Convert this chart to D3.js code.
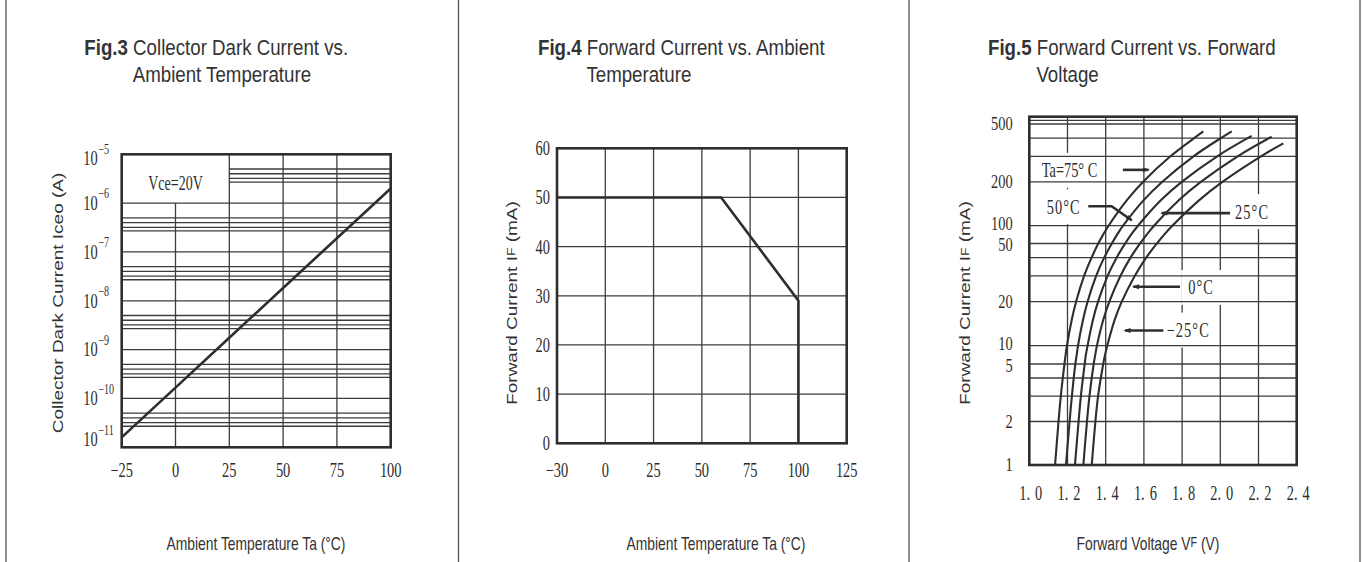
<!DOCTYPE html>
<html>
<head>
<meta charset="utf-8">
<script src="https://cdn.jsdelivr.net/npm/d3@7/dist/d3.min.js"></script>
<style>
html,body{margin:0;padding:0;background:#fff;}
svg{display:block;}
</style>
</head>
<body>
<svg id="chart" width="1363" height="562"></svg>
<script>
// ================= DATA =================
// Fig.3 Collector dark current vs ambient temperature
const fig3TempTicks = [-25, 0, 25, 50, 75, 100];
const fig3Temp = [-25, 0, 25, 50, 75, 100];
const fig3Iceo = [1.6e-11, 1.67e-10, 1.75e-9, 1.83e-8, 1.91e-7, 2.0e-6];
const fig3DecadeExponents = [-11, -10, -9, -8, -7, -6, -5];
const fig3MinorMultipliers = [5, 4, 3.2, 2.7];
const fig3Note = "Vce=20V";

// Fig.4 Forward current vs ambient temperature
const fig4TempTicks = [-30, 0, 25, 50, 75, 100, 125];
const fig4CurrentTicks = [0, 10, 20, 30, 40, 50, 60];
const fig4Temp = [-30, 60, 100, 100];
const fig4Current = [50, 50, 29, 0];

// Fig.5 Forward current vs forward voltage
const fig5VoltTicks = [1.0, 1.2, 1.4, 1.6, 1.8, 2.0, 2.2, 2.4];
const fig5CurrentTickLabels = [1, 2, 5, 10, 20, 50, 100, 200, 500];
const fig5CurrentGrid = [2, 3, 4, 5, 10, 20, 30, 40, 50, 100, 200, 300, 400, 500, 700];
const fig5SeriesLabels = ["Ta=75° C", "50°C", "25°C", "0°C", "−25°C"];
const fig5IF_75  = [1, 2, 3, 5, 7, 10, 15, 20, 30, 40, 50, 70, 100, 150, 200, 300, 400, 445];
const fig5VF_75  = [1.135, 1.153, 1.165, 1.184, 1.190, 1.197, 1.222, 1.245, 1.287, 1.326, 1.361, 1.386, 1.415, 1.511, 1.595, 1.739, 1.863, 1.911];
const fig5IF_50  = [1, 2, 3, 5, 7, 10, 15, 20, 30, 40, 50, 70, 100, 150, 200, 300, 400, 445];
const fig5VF_50  = [1.192, 1.211, 1.223, 1.241, 1.248, 1.255, 1.281, 1.305, 1.35, 1.392, 1.432, 1.459, 1.491, 1.599, 1.695, 1.86, 2.003, 2.06];
const fig5IF_25  = [1, 2, 3, 5, 7, 10, 15, 20, 30, 40, 50, 70, 100, 150, 200, 300, 414];
const fig5VF_25  = [1.239, 1.258, 1.27, 1.29, 1.296, 1.305, 1.333, 1.36, 1.41, 1.457, 1.502, 1.532, 1.569, 1.69, 1.798, 1.984, 2.164];
const fig5IF_0   = [1, 2, 3, 5, 7, 10, 15, 20, 30, 40, 50, 70, 100, 150, 200, 300, 409];
const fig5VF_0   = [1.283, 1.302, 1.315, 1.337, 1.345, 1.354, 1.387, 1.419, 1.477, 1.53, 1.58, 1.614, 1.653, 1.784, 1.898, 2.091, 2.269];
const fig5IF_m25 = [1, 2, 3, 5, 7, 10, 15, 20, 30, 40, 50, 70, 100, 150, 200, 300, 368];
const fig5VF_m25 = [1.327, 1.346, 1.36, 1.387, 1.396, 1.408, 1.447, 1.484, 1.552, 1.612, 1.668, 1.705, 1.749, 1.89, 2.011, 2.213, 2.33];
// annotation labels (data coordinates: volts, mA)
const fig5LabelV = [1.065, 1.091, 2.077, 1.832, 1.719];
const fig5LabelI = [240, 135, 125, 25, 12.8];
const fig5ArrowV = [[1.49, 1.624], [1.309, 1.431, 1.536], [2.051, 1.693], [1.789, 1.545], [1.702, 1.501]];
const fig5ArrowI = [[242, 242], [136, 136, 109], [122, 122], [25.3, 25.3], [12.7, 12.7]];

// ================= STYLE =================
const INK = "#2e2e2e";
const GRIDC = "#3c3c3c";
const SERIF = "'Liberation Serif','Times New Roman',serif";
const SANS = "'Liberation Sans',Arial,sans-serif";
const SX = 0.72;

const svg = d3.select("#chart");
const defs = svg.append("defs");
defs.append("marker").attr("id", "ah").attr("viewBox", "0 0 10 10")
  .attr("refX", 8).attr("refY", 5).attr("markerWidth", 9).attr("markerHeight", 7)
  .attr("markerUnits", "userSpaceOnUse").attr("orient", "auto")
  .append("path").attr("d", "M0,1.5 L10,5 L0,8.5 Z").attr("fill", INK);

function minus(v) { return v < 0 ? "\u2212" + Math.abs(v) : String(v); }

function stext(g, x, y, txt, o = {}) {
  const size = o.size || 20, sx = o.sx == null ? SX : o.sx;
  const t = g.append("text")
    .attr("transform", `translate(${x},${y}) scale(${sx},1)`)
    .attr("text-anchor", o.anchor || "middle")
    .attr("dominant-baseline", o.baseline || "central")
    .style("font-family", o.family || SERIF)
    .style("font-size", size + "px")
    .style("font-weight", o.weight || "normal")
    .attr("fill", o.fill || INK);
  if (txt != null) t.text(txt);
  return t;
}
function hline(g, x1, x2, y, w = 1.3, c = GRIDC) {
  g.append("line").attr("x1", x1).attr("x2", x2).attr("y1", y).attr("y2", y)
    .attr("stroke", c).attr("stroke-width", w);
}
function vline(g, x, y1, y2, w = 1.3, c = GRIDC) {
  g.append("line").attr("x1", x).attr("x2", x).attr("y1", y1).attr("y2", y2)
    .attr("stroke", c).attr("stroke-width", w);
}
function frame(g, F) {
  g.append("rect").attr("x", F.l).attr("y", F.t).attr("width", F.r - F.l).attr("height", F.b - F.t)
    .attr("fill", "none").attr("stroke", INK).attr("stroke-width", 2.6);
}

// panel separators
[6, 458.5, 909, 1360].forEach(x => vline(svg, x, 0, 562, 1.3, "#555"));

// titles
function title(x, fig, rest, line2) {
  const t = stext(svg, x, 55, null, {family: SANS, size: 22, sx: 0.85, anchor: "start", baseline: "alphabetic", fill: "#333"});
  t.append("tspan").style("font-weight", "bold").text(fig);
  t.append("tspan").text(" " + rest);
  stext(svg, x + 48.4, 81.7, line2, {family: SANS, size: 22, sx: 0.85, anchor: "start", baseline: "alphabetic", fill: "#333"});
}
title(84.3, "Fig.3", "Collector Dark Current vs.", "Ambient Temperature");
title(538, "Fig.4", "Forward Current vs. Ambient", "Temperature");
title(988, "Fig.5", "Forward Current vs. Forward", "Voltage");

function yTitle(x, y, parts) {
  const t = svg.append("text")
    .attr("transform", `translate(${x},${y}) rotate(-90) scale(1,0.8)`)
    .attr("text-anchor", "middle").attr("dominant-baseline", "central")
    .style("font-family", SANS).style("font-size", "19px").attr("fill", "#333");
  parts.forEach(p => t.append("tspan").style("font-size", (p[1] || 19) + "px").text(p[0]));
}
function xTitle(x, y, parts) {
  const t = stext(svg, x, y, null, {family: SANS, size: 18, sx: 0.77, fill: "#333"});
  parts.forEach(p => t.append("tspan").style("font-size", (p[1] || 18) + "px").text(p[0]));
}

// ================= FIG.3 =================
{
  const F = {l: 121.7, r: 390.7, t: 154.3, b: 447.3};
  const g = svg.append("g");
  const x = d3.scaleLinear().domain([-25, 100]).range([F.l, F.r]);
  const y = d3.scaleLog().domain([1e-11, 1e-5]).range([F.b, F.t]);
  const boxTop = 1e-6, boxRight = 25;
  fig3TempTicks.slice(1, -1).forEach(t => vline(g, x(t), t < boxRight ? y(boxTop) : F.t, F.b));
  fig3DecadeExponents.slice(1, -1).forEach(e => hline(g, F.l, F.r, y(Math.pow(10, e))));
  fig3DecadeExponents.slice(0, -1).forEach(e => {
    fig3MinorMultipliers.forEach(m => {
      const v = m * Math.pow(10, e);
      hline(g, v > boxTop ? x(boxRight) : F.l, F.r, y(v));
    });
  });
  frame(g, F);
  g.append("path").datum(fig3Temp.map((t, i) => [t, fig3Iceo[i]]))
    .attr("d", d3.line().x(d => x(d[0])).y(d => y(d[1])))
    .attr("fill", "none").attr("stroke", INK).attr("stroke-width", 2.6);
  stext(g, x(0), y(2.5e-6), fig3Note, {size: 20, sx: 0.70});
  fig3DecadeExponents.forEach(e => {
    const adj = e === -5 ? 4 : (e === -11 ? -8 : 0);
    const gy = y(Math.pow(10, e)) + adj;
    const t = stext(g, 83.3, gy + 6.7, null, {size: 20, anchor: "start", baseline: "alphabetic"});
    t.append("tspan").text("10");
    t.append("tspan").attr("dy", -11.5).attr("dx", 1).style("font-size", "14px").text(minus(e));
  });
  fig3TempTicks.forEach(t => stext(g, x(t), 470, minus(t)));
  yTitle(58, 303, [["Collector Dark Current Iceo (A)"]]);
  xTitle(256, 543, [["Ambient Temperature Ta (°C)"]]);
}

// ================= FIG.4 =================
{
  const F = {l: 557, r: 846.7, t: 148.3, b: 443.3};
  const g = svg.append("g");
  const x = d3.scaleLinear().domain([-30, 0, 125]).range([F.l, F.l + (F.r - F.l) / 6, F.r]);
  const y = d3.scaleLinear().domain([0, 60]).range([F.b, F.t]);
  fig4TempTicks.slice(1, -1).forEach(t => vline(g, x(t), F.t, F.b));
  fig4CurrentTicks.slice(1, -1).forEach(c => hline(g, F.l, F.r, y(c)));
  frame(g, F);
  g.append("path").datum(fig4Temp.map((t, i) => [t, fig4Current[i]]))
    .attr("d", d3.line().x(d => x(d[0])).y(d => y(d[1])))
    .attr("fill", "none").attr("stroke", INK).attr("stroke-width", 2.6);
  fig4CurrentTicks.forEach(c => stext(g, 550, y(c), String(c), {anchor: "end"}));
  fig4TempTicks.forEach(t => stext(g, x(t), 470, minus(t)));
  yTitle(511.7, 303, [["Forward Current I"], ["F", 14], [" (mA)"]]);
  xTitle(716, 543, [["Ambient Temperature Ta (°C)"]]);
}

// ================= FIG.5 =================
{
  const F = {l: 1029.3, r: 1296.7, t: 116.7, b: 465};
  const gV = svg.append("g"), gK = svg.append("g"), gH = svg.append("g"),
        gF = svg.append("g"), gC = svg.append("g"), gT = svg.append("g");
  const x = d3.scaleLinear().domain([1.0, 2.4]).range([F.l, F.r]);
  // the printed current axis is a log axis whose 5-10 spans are compressed
  const breaks = [1, 5, 10, 50, 100, 500, 1000];
  const fracs = [0, 0.29, 0.3425, 0.636, 0.687, 0.979, 1];
  const yl = d3.scaleLinear().domain(breaks.map(Math.log10)).range(fracs.map(f => F.b - f * (F.b - F.t)));
  const y = v => yl(Math.log10(v));

  fig5VoltTicks.slice(1, -1).forEach(v => vline(gV, x(v), F.t, F.b));
  fig5CurrentGrid.forEach(c => hline(gH, F.l, F.r, y(c)));
  frame(gF, F);

  const series = [[fig5VF_75, fig5IF_75], [fig5VF_50, fig5IF_50], [fig5VF_25, fig5IF_25], [fig5VF_0, fig5IF_0], [fig5VF_m25, fig5IF_m25]];
  const line = d3.line().x(d => x(d[0])).y(d => y(d[1])).curve(d3.curveCatmullRom.alpha(0.5));
  series.forEach(([vf, i_]) => {
    gC.append("path").datum(vf.map((v, k) => [v, i_[k]])).attr("d", line)
      .attr("fill", "none").attr("stroke", INK).attr("stroke-width", 2.1);
  });
  const aline = d3.line().x(d => x(d[0])).y(d => y(d[1]));
  fig5ArrowV.forEach((vs, k) => {
    gC.append("path").datum(vs.map((v, j) => [v, fig5ArrowI[k][j]])).attr("d", aline)
      .attr("fill", "none").attr("stroke", INK).attr("stroke-width", 2.6).attr("marker-end", "url(#ah)");
  });
  fig5SeriesLabels.forEach((s, k) => {
    const t = stext(gT, x(fig5LabelV[k]), y(fig5LabelI[k]), s, {anchor: "start"});
    if (k > 0) t.style("letter-spacing", "1.5px");
    const b = t.node().getBoundingClientRect();
    gK.append("rect").attr("x", b.left - 7).attr("y", b.top - 6).attr("width", b.width + 14).attr("height", b.height + 12).attr("fill", "#fff");
  });
  // y tick labels; closely stacked pairs (100/50, 10/5) are nudged apart just enough
  const LBL = 19, need = LBL * 1.11 + 0.3;
  const lbls = fig5CurrentTickLabels.map(c => ({c, py: y(c)})).sort((a, b) => a.py - b.py);
  for (let i = 1; i < lbls.length; i++) {
    const gap = lbls[i].py - lbls[i - 1].py;
    if (gap < need) {
      const push = (need - gap) / 2;
      lbls[i - 1].py -= push;
      lbls[i].py += push;
    }
  }
  lbls.forEach(d => stext(gT, 1012.7, d.py, String(d.c), {anchor: "end", size: LBL, sx: 0.76}));
  fig5VoltTicks.forEach(v => {
    const s = v.toFixed(1);
    const t = stext(gT, x(v) + 1.5, 493, null);
    t.append("tspan").text(s.slice(0, 2));
    t.append("tspan").attr("dx", 7).text(s.slice(2));
  });
  yTitle(965, 303, [["Forward Current I"], ["F", 14], [" (mA)"]]);
  xTitle(1148, 543, [["Forward Voltage V"], ["F", 14], [" (V)"]]);
}
</script>
</body>
</html>
